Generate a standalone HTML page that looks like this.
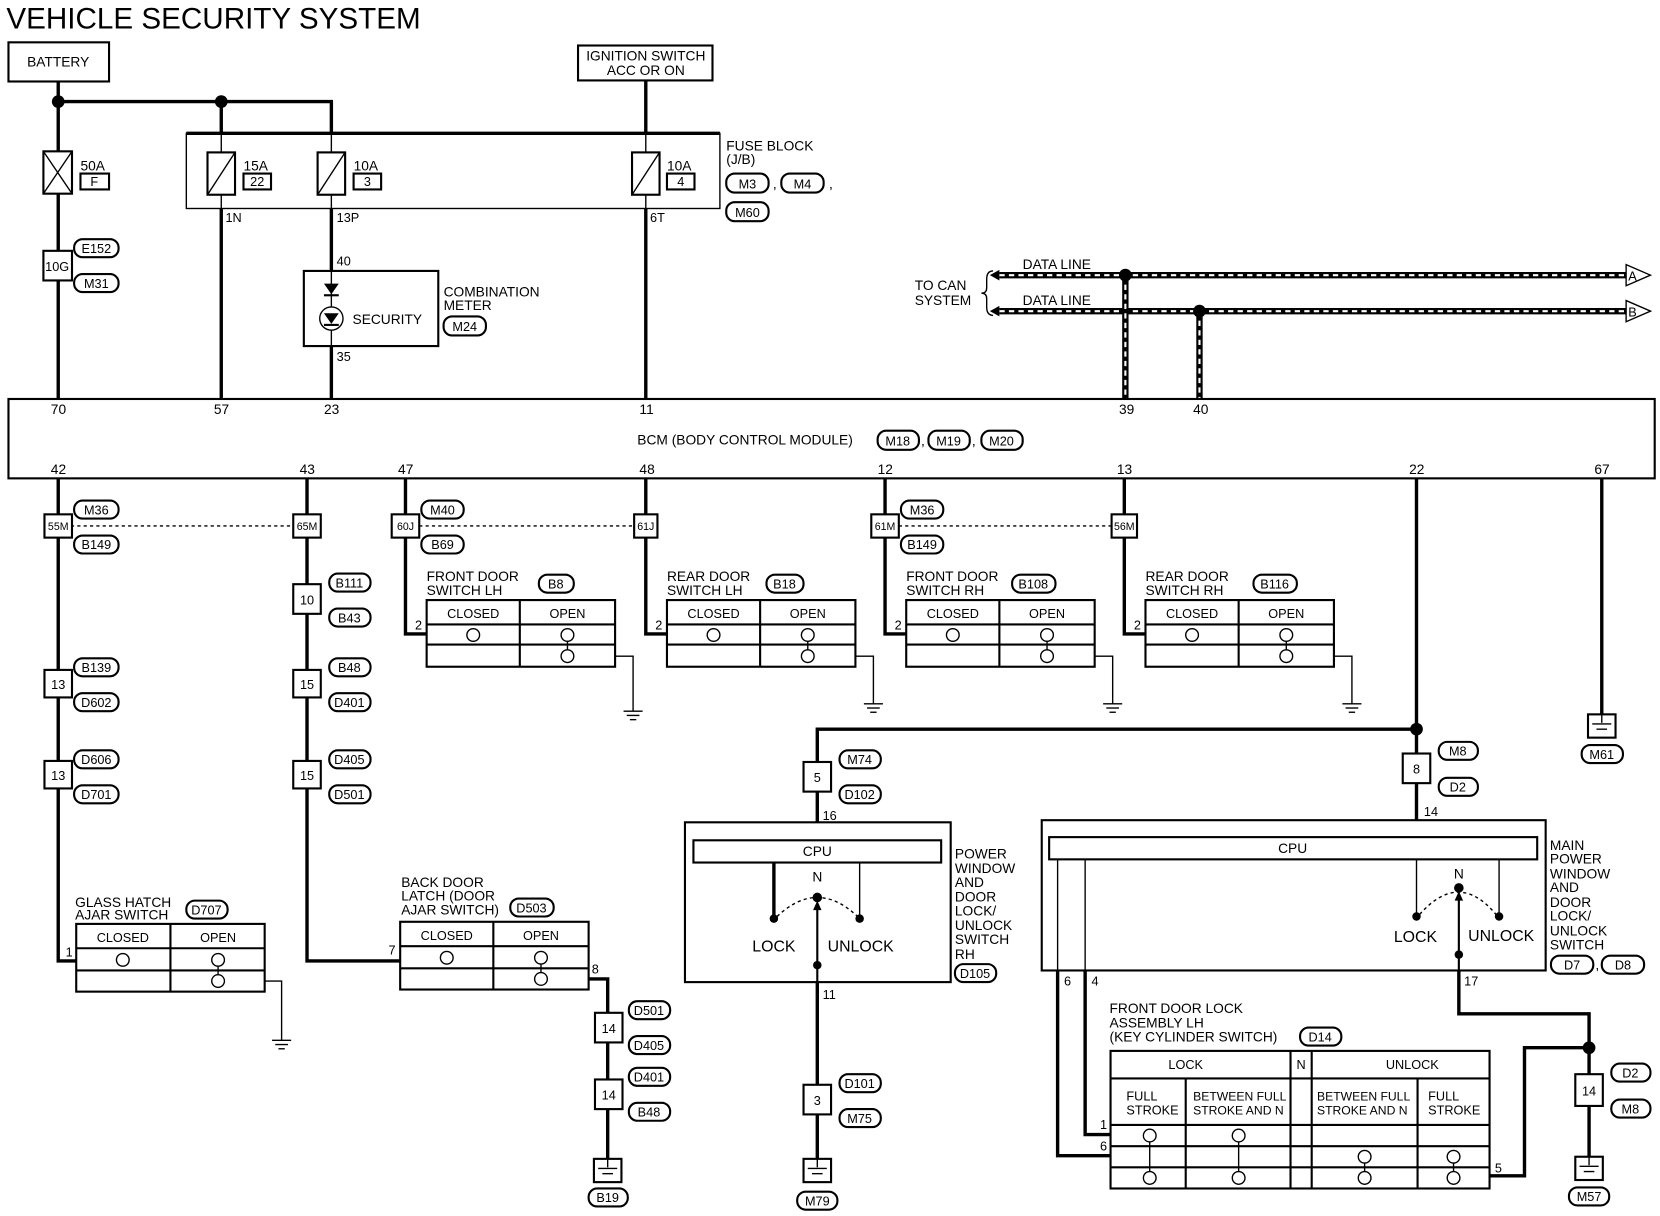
<!DOCTYPE html>
<html><head><meta charset="utf-8"><style>
html,body{margin:0;padding:0;background:#fff;}
svg{display:block;}
text{font-family:"Liberation Sans",sans-serif;font-size:13px;fill:#000;}
.t{stroke:#000;stroke-width:3.2;fill:none;}
.n{stroke:#000;stroke-width:1.3;fill:none;}
.b{stroke:#000;stroke-width:2;fill:none;}
.c{text-anchor:middle;}
.s{font-size:12px;}
rect[fill="#fff"],circle[fill="#fff"],polygon[fill="#fff"]{fill:#fff;}
</style></head><body>
<svg width="1660" height="1216" viewBox="0 0 1568 1149" preserveAspectRatio="none" xmlns="http://www.w3.org/2000/svg">
<defs>
<g id="gnd"><line class="n" x1="-9" y1="0" x2="9" y2="0"/><line class="n" x1="-6" y1="4" x2="6" y2="4"/><line class="n" x1="-3" y1="8" x2="3" y2="8"/></g>
<g id="gbox"><rect class="b" x="-13" y="0" width="26" height="22" fill="#fff"/><line class="n" x1="0" y1="0" x2="0" y2="8"/><line class="n" x1="-9" y1="9" x2="9" y2="9"/><line class="n" x1="-5" y1="14" x2="5" y2="14"/></g>
<g id="sw"><circle class="n" cx="0" cy="0" r="6" fill="#fff"/><line class="n" x1="0" y1="6" x2="0" y2="14"/><circle class="n" cx="0" cy="20" r="6" fill="#fff"/></g>
</defs>
<rect width="1568" height="1149" fill="#fff"/>
<text x="6" y="27" style="font-size:28px">VEHICLE SECURITY SYSTEM</text>

<!-- battery -->
<rect class="b" x="8" y="40" width="95" height="37"/><text x="55" y="63" class="c">BATTERY</text>
<line class="t" x1="55" y1="77" x2="55" y2="377"/>
<polyline class="t" points="55,96 313,96 313,126"/>
<line class="t" x1="209" y1="96" x2="209" y2="126"/>
<circle cx="55" cy="96" r="6"/><circle cx="209" cy="96" r="6"/>
<rect class="b" x="41" y="143" width="27" height="40" fill="#fff"/><line class="n" x1="41" y1="143" x2="68" y2="183"/><line class="n" x1="68" y1="143" x2="41" y2="183"/>
<text x="76" y="161">50A</text><rect class="b" x="76" y="164" width="27" height="15"/><text x="89" y="176" class="c s">F</text>
<rect class="b" x="41" y="237" width="27" height="28" fill="#fff"/><text x="54" y="256" class="c s">10G</text>
<rect class="b" x="70" y="226" width="42" height="17" rx="8"/><text x="91" y="239" class="c s">E152</text>
<rect class="b" x="70" y="259" width="42" height="17" rx="8"/><text x="91" y="272" class="c s">M31</text>

<!-- fuse block -->
<rect class="n" x="176" y="126" width="504" height="71"/><line class="t" x1="176" y1="126" x2="680" y2="126"/>
<line class="n" x1="209" y1="126" x2="209" y2="197"/><line class="n" x1="313" y1="126" x2="313" y2="197"/><line class="n" x1="610" y1="126" x2="610" y2="197"/>
<rect class="b" x="196" y="144" width="26" height="40" fill="#fff"/><line class="n" x1="196" y1="184" x2="222" y2="144"/>
<text x="230" y="161">15A</text><rect class="b" x="230" y="164" width="26" height="15"/><text x="243" y="176" class="c s">22</text>
<rect class="b" x="300" y="144" width="26" height="40" fill="#fff"/><line class="n" x1="300" y1="184" x2="326" y2="144"/>
<text x="334" y="161">10A</text><rect class="b" x="334" y="164" width="26" height="15"/><text x="347" y="176" class="c s">3</text>
<rect class="b" x="597" y="144" width="26" height="40" fill="#fff"/><line class="n" x1="597" y1="184" x2="623" y2="144"/>
<text x="630" y="161">10A</text><rect class="b" x="630" y="164" width="26" height="15"/><text x="643" y="176" class="c s">4</text>
<text x="686" y="142">FUSE BLOCK</text><text x="686" y="155">(J/B)</text>
<rect class="b" x="686" y="164" width="40" height="18" rx="8"/><text x="706" y="178" class="c s">M3</text><text x="730" y="178">,</text>
<rect class="b" x="738" y="164" width="40" height="18" rx="8"/><text x="758" y="178" class="c s">M4</text><text x="783" y="178">,</text>
<rect class="b" x="686" y="191" width="40" height="18" rx="8"/><text x="706" y="205" class="c s">M60</text>
<line class="t" x1="209" y1="197" x2="209" y2="377"/><text x="213" y="210" class="s">1N</text>
<line class="t" x1="313" y1="197" x2="313" y2="256"/><text x="318" y="210" class="s">13P</text><text x="318" y="251" class="s">40</text>
<rect class="b" x="287" y="256" width="127" height="71"/>
<line class="n" x1="313" y1="256" x2="313" y2="290"/>
<polygon points="306,268 320,268 313,278"/><line class="b" x1="306" y1="279" x2="320" y2="279"/>
<circle class="n" cx="313" cy="301" r="11"/><polygon points="306,296 320,296 313,306"/><line class="b" x1="306" y1="307" x2="320" y2="307"/>
<line class="n" x1="313" y1="312" x2="313" y2="327"/>
<text x="333" y="306">SECURITY</text>
<text x="318" y="341" class="s">35</text><line class="t" x1="313" y1="327" x2="313" y2="377"/>
<text x="419" y="280">COMBINATION</text><text x="419" y="293">METER</text>
<rect class="b" x="419" y="299" width="40" height="18" rx="8"/><text x="439" y="313" class="c s">M24</text>
<rect class="b" x="546" y="43" width="127" height="33"/><text x="610" y="57" class="c">IGNITION SWITCH</text><text x="610" y="71" class="c">ACC OR ON</text>
<line class="t" x1="610" y1="76" x2="610" y2="126"/><line class="t" x1="610" y1="197" x2="610" y2="377"/><text x="614" y="210" class="s">6T</text>

<!-- CAN -->
<text x="864" y="274">TO CAN</text><text x="864" y="288">SYSTEM</text>
<path class="n" d="M938,256 Q932,256 932,264 L932,272 Q932,277 927,277 Q932,277 932,282 L932,290 Q932,298 938,298"/>
<line x1="944" y1="260" x2="1536" y2="260" stroke="#000" stroke-width="6"/><line x1="944" y1="260" x2="1536" y2="260" stroke="#fff" stroke-width="2" stroke-dasharray="5,4"/>
<line x1="944" y1="294" x2="1536" y2="294" stroke="#000" stroke-width="6"/><line x1="944" y1="294" x2="1536" y2="294" stroke="#fff" stroke-width="2" stroke-dasharray="5,4"/>
<polygon points="935,260 944,255 944,265"/><polygon points="935,294 944,289 944,299"/>
<polygon class="n" points="1536,250 1559,260 1536,270" fill="#fff"/><text x="1538" y="265" class="s">A</text>
<polygon class="n" points="1536,284 1559,294 1536,304" fill="#fff"/><text x="1538" y="299" class="s">B</text>
<text x="966" y="254">DATA LINE</text><text x="966" y="288">DATA LINE</text>
<line x1="1063" y1="260" x2="1063" y2="377" stroke="#000" stroke-width="6"/><line x1="1063" y1="260" x2="1063" y2="377" stroke="#fff" stroke-width="2" stroke-dasharray="5,4"/>
<line x1="1133" y1="294" x2="1133" y2="377" stroke="#000" stroke-width="6"/><line x1="1133" y1="294" x2="1133" y2="377" stroke="#fff" stroke-width="2" stroke-dasharray="5,4"/>
<circle cx="1063" cy="260" r="6"/><circle cx="1133" cy="294" r="6"/>

<!-- BCM -->
<rect class="b" x="8" y="377" width="1555" height="75" fill="#fff"/>
<g class="s"><text x="48" y="391">70</text><text x="202" y="391">57</text><text x="306" y="391">23</text><text x="604" y="391">11</text><text x="1057" y="391">39</text><text x="1127" y="391">40</text>
<text x="48" y="448">42</text><text x="283" y="448">43</text><text x="376" y="448">47</text><text x="604" y="448">48</text><text x="829" y="448">12</text><text x="1055" y="448">13</text><text x="1331" y="448">22</text><text x="1506" y="448">67</text></g>
<text x="602" y="420">BCM (BODY CONTROL MODULE)</text>
<rect class="b" x="829" y="407" width="39" height="18" rx="8"/><text x="848" y="421" class="c s">M18</text><text x="870" y="421">,</text>
<rect class="b" x="877" y="407" width="39" height="18" rx="8"/><text x="896" y="421" class="c s">M19</text><text x="918" y="421">,</text>
<rect class="b" x="927" y="407" width="39" height="18" rx="8"/><text x="946" y="421" class="c s">M20</text>

<!-- connector row -->
<line class="n" x1="67" y1="497" x2="277" y2="497" stroke-dasharray="3,3"/>
<line class="n" x1="396" y1="497" x2="599" y2="497" stroke-dasharray="3,3"/>
<line class="n" x1="849" y1="497" x2="1050" y2="497" stroke-dasharray="3,3"/>

<!-- left column x=55 -->
<polyline class="t" points="55,452 55,908 72,908"/>
<rect class="b" x="42" y="486" width="26" height="22" fill="#fff"/><text x="55" y="501" class="c" style="font-size:10px">55M</text>
<rect class="b" x="70" y="473" width="42" height="17" rx="8"/><text x="91" y="486" class="c s">M36</text>
<rect class="b" x="70" y="506" width="42" height="17" rx="8"/><text x="91" y="519" class="c s">B149</text>
<rect class="b" x="42" y="633" width="26" height="26" fill="#fff"/><text x="55" y="651" class="c s">13</text>
<rect class="b" x="70" y="622" width="42" height="17" rx="8"/><text x="91" y="635" class="c s">B139</text>
<rect class="b" x="70" y="655" width="42" height="17" rx="8"/><text x="91" y="668" class="c s">D602</text>
<rect class="b" x="42" y="719" width="26" height="26" fill="#fff"/><text x="55" y="737" class="c s">13</text>
<rect class="b" x="70" y="709" width="42" height="17" rx="8"/><text x="91" y="722" class="c s">D606</text>
<rect class="b" x="70" y="742" width="42" height="17" rx="8"/><text x="91" y="755" class="c s">D701</text>
<text x="62" y="904" class="s">1</text>
<text x="71" y="857">GLASS HATCH</text><text x="71" y="869">AJAR SWITCH</text>
<rect class="b" x="176" y="851" width="39" height="17" rx="8"/><text x="195" y="864" class="c s">D707</text>
<g transform="translate(72,873)">
<rect class="b" x="0" y="0" width="178" height="64"/><line class="b" x1="0" y1="23" x2="178" y2="23"/><line class="b" x1="0" y1="44" x2="178" y2="44"/><line class="b" x1="89" y1="0" x2="89" y2="64"/>
<text x="44" y="17" class="c s">CLOSED</text><text x="134" y="17" class="c s">OPEN</text>
<circle class="n" cx="44" cy="34" r="6"/><use href="#sw" x="134" y="34"/>
</g>
<polyline class="n" points="250,927 266,927 266,983"/><use href="#gnd" x="266" y="983"/>

<!-- column x=290 -->
<polyline class="t" points="290,452 290,908 378,908"/>
<rect class="b" x="277" y="486" width="26" height="22" fill="#fff"/><text x="290" y="501" class="c" style="font-size:10px">65M</text>
<rect class="b" x="277" y="552" width="26" height="28" fill="#fff"/><text x="290" y="571" class="c s">10</text>
<rect class="b" x="311" y="542" width="39" height="17" rx="8"/><text x="330" y="555" class="c s">B111</text>
<rect class="b" x="311" y="575" width="39" height="17" rx="8"/><text x="330" y="588" class="c s">B43</text>
<rect class="b" x="277" y="633" width="26" height="26" fill="#fff"/><text x="290" y="651" class="c s">15</text>
<rect class="b" x="311" y="622" width="39" height="17" rx="8"/><text x="330" y="635" class="c s">B48</text>
<rect class="b" x="311" y="655" width="39" height="17" rx="8"/><text x="330" y="668" class="c s">D401</text>
<rect class="b" x="277" y="719" width="26" height="26" fill="#fff"/><text x="290" y="737" class="c s">15</text>
<rect class="b" x="311" y="709" width="39" height="17" rx="8"/><text x="330" y="722" class="c s">D405</text>
<rect class="b" x="311" y="742" width="39" height="17" rx="8"/><text x="330" y="755" class="c s">D501</text>
<text x="367" y="902" class="s">7</text>
<text x="379" y="838">BACK DOOR</text><text x="379" y="851">LATCH (DOOR</text><text x="379" y="864">AJAR SWITCH)</text>
<rect class="b" x="482" y="849" width="41" height="17" rx="8"/><text x="502" y="862" class="c s">D503</text>
<g transform="translate(378,871)">
<rect class="b" x="0" y="0" width="178" height="64"/><line class="b" x1="0" y1="23" x2="178" y2="23"/><line class="b" x1="0" y1="44" x2="178" y2="44"/><line class="b" x1="88" y1="0" x2="88" y2="64"/>
<text x="44" y="17" class="c s">CLOSED</text><text x="133" y="17" class="c s">OPEN</text>
<circle class="n" cx="44" cy="34" r="6"/><use href="#sw" x="133" y="34"/>
</g>
<text x="559" y="920" class="s">8</text>
<polyline class="t" points="556,925 574,925 574,1095"/>
<rect class="b" x="562" y="957" width="26" height="28" fill="#fff"/><text x="575" y="976" class="c s">14</text>
<rect class="b" x="562" y="1020" width="26" height="28" fill="#fff"/><text x="575" y="1039" class="c s">14</text>
<rect class="b" x="594" y="946" width="39" height="17" rx="8"/><text x="613" y="959" class="c s">D501</text>
<rect class="b" x="594" y="979" width="39" height="17" rx="8"/><text x="613" y="992" class="c s">D405</text>
<rect class="b" x="594" y="1009" width="39" height="17" rx="8"/><text x="613" y="1022" class="c s">D401</text>
<rect class="b" x="594" y="1042" width="39" height="17" rx="8"/><text x="613" y="1055" class="c s">B48</text>
<use href="#gbox" x="574" y="1095"/>
<rect class="b" x="556" y="1123" width="37" height="17" rx="8"/><text x="574" y="1136" class="c s">B19</text>

<!-- door switches -->
<g transform="translate(383,0)">
<polyline class="t" points="0,452 0,599 20,599"/>
<rect class="b" x="-13" y="486" width="26" height="22" fill="#fff"/><text x="0" y="501" class="c" style="font-size:10px">60J</text>
<rect class="b" x="15" y="473" width="40" height="17" rx="8"/><text x="35" y="486" class="c s">M40</text>
<rect class="b" x="15" y="506" width="40" height="17" rx="8"/><text x="35" y="519" class="c s">B69</text>
<text x="20" y="549">FRONT DOOR</text><text x="20" y="562">SWITCH LH</text>
<rect class="b" x="126" y="543" width="33" height="17" rx="8"/><text x="142" y="556" class="c s">B8</text>
<text x="9" y="595" class="s">2</text>
<g transform="translate(20,567)"><rect class="b" x="0" y="0" width="178" height="63"/><line class="b" x1="0" y1="23" x2="178" y2="23"/><line class="b" x1="0" y1="42" x2="178" y2="42"/><line class="b" x1="88" y1="0" x2="88" y2="63"/>
<text x="44" y="17" class="c s">CLOSED</text><text x="133" y="17" class="c s">OPEN</text><circle class="n" cx="44" cy="33" r="6"/><use href="#sw" x="133" y="33"/></g>
<polyline class="n" points="198,620 215,620 215,672"/><use href="#gnd" x="215" y="672"/>
</g>
<g transform="translate(610,0)">
<polyline class="t" points="0,452 0,599 20,599"/>
<rect class="b" x="-11" y="486" width="22" height="22" fill="#fff"/><text x="0" y="501" class="c" style="font-size:10px">61J</text>
<text x="20" y="549">REAR DOOR</text><text x="20" y="562">SWITCH LH</text>
<rect class="b" x="114" y="543" width="35" height="17" rx="8"/><text x="131" y="556" class="c s">B18</text>
<text x="9" y="595" class="s">2</text>
<g transform="translate(20,567)"><rect class="b" x="0" y="0" width="178" height="63"/><line class="b" x1="0" y1="23" x2="178" y2="23"/><line class="b" x1="0" y1="42" x2="178" y2="42"/><line class="b" x1="88" y1="0" x2="88" y2="63"/>
<text x="44" y="17" class="c s">CLOSED</text><text x="133" y="17" class="c s">OPEN</text><circle class="n" cx="44" cy="33" r="6"/><use href="#sw" x="133" y="33"/></g>
<polyline class="n" points="198,620 215,620 215,665"/><use href="#gnd" x="215" y="665"/>
</g>
<g transform="translate(836,0)">
<polyline class="t" points="0,452 0,599 20,599"/>
<rect class="b" x="-13" y="486" width="26" height="22" fill="#fff"/><text x="0" y="501" class="c" style="font-size:10px">61M</text>
<rect class="b" x="15" y="473" width="40" height="17" rx="8"/><text x="35" y="486" class="c s">M36</text>
<rect class="b" x="15" y="506" width="40" height="17" rx="8"/><text x="35" y="519" class="c s">B149</text>
<text x="20" y="549">FRONT DOOR</text><text x="20" y="562">SWITCH RH</text>
<rect class="b" x="120" y="543" width="41" height="17" rx="8"/><text x="140" y="556" class="c s">B108</text>
<text x="9" y="595" class="s">2</text>
<g transform="translate(20,567)"><rect class="b" x="0" y="0" width="178" height="63"/><line class="b" x1="0" y1="23" x2="178" y2="23"/><line class="b" x1="0" y1="42" x2="178" y2="42"/><line class="b" x1="88" y1="0" x2="88" y2="63"/>
<text x="44" y="17" class="c s">CLOSED</text><text x="133" y="17" class="c s">OPEN</text><circle class="n" cx="44" cy="33" r="6"/><use href="#sw" x="133" y="33"/></g>
<polyline class="n" points="198,620 215,620 215,665"/><use href="#gnd" x="215" y="665"/>
</g>
<g transform="translate(1062,0)">
<polyline class="t" points="0,452 0,599 20,599"/>
<rect class="b" x="-12" y="486" width="24" height="22" fill="#fff"/><text x="0" y="501" class="c" style="font-size:10px">56M</text>
<text x="20" y="549">REAR DOOR</text><text x="20" y="562">SWITCH RH</text>
<rect class="b" x="122" y="543" width="41" height="17" rx="8"/><text x="142" y="556" class="c s">B116</text>
<text x="9" y="595" class="s">2</text>
<g transform="translate(20,567)"><rect class="b" x="0" y="0" width="178" height="63"/><line class="b" x1="0" y1="23" x2="178" y2="23"/><line class="b" x1="0" y1="42" x2="178" y2="42"/><line class="b" x1="88" y1="0" x2="88" y2="63"/>
<text x="44" y="17" class="c s">CLOSED</text><text x="133" y="17" class="c s">OPEN</text><circle class="n" cx="44" cy="33" r="6"/><use href="#sw" x="133" y="33"/></g>
<polyline class="n" points="198,620 215,620 215,665"/><use href="#gnd" x="215" y="665"/>
</g>

<!-- ground 67 -->
<line class="t" x1="1513" y1="452" x2="1513" y2="675"/>
<use href="#gbox" x="1513" y="675"/>
<rect class="b" x="1494" y="704" width="39" height="17" rx="8"/><text x="1513" y="717" class="c s">M61</text>

<!-- right side -->
<line class="t" x1="1338" y1="452" x2="1338" y2="775"/>
<polyline class="t" points="1338,689 772,689 772,777"/>
<circle cx="1338" cy="689" r="6"/>
<rect class="b" x="759" y="720" width="26" height="28" fill="#fff"/><text x="772" y="739" class="c s">5</text>
<rect class="b" x="793" y="709" width="39" height="17" rx="8"/><text x="812" y="722" class="c s">M74</text>
<rect class="b" x="793" y="742" width="39" height="17" rx="8"/><text x="812" y="755" class="c s">D102</text>
<text x="777" y="775" class="s">16</text>
<rect class="b" x="647" y="777" width="251" height="151"/>
<rect class="b" x="655" y="794" width="234" height="21"/><text x="772" y="809" class="c">CPU</text>
<line class="t" x1="731" y1="815" x2="731" y2="868"/><line class="n" x1="812" y1="815" x2="812" y2="868"/>
<circle cx="731" cy="868" r="4"/><circle cx="812" cy="868" r="4"/>
<text x="772" y="833" class="c">N</text>
<path d="M734,866 Q772,830 810,866" fill="none" stroke="#000" stroke-width="1.3" stroke-dasharray="3,3"/>
<circle cx="772" cy="848" r="4.5"/><polygon points="772,851 768,860 776,860"/>
<line class="b" x1="772" y1="858" x2="772" y2="928"/><circle cx="772" cy="912" r="4"/>
<text x="731" y="899" class="c" style="font-size:15px">LOCK</text><text x="813" y="899" class="c" style="font-size:15px">UNLOCK</text>
<g><text x="902" y="811">POWER</text><text x="902" y="825">WINDOW</text><text x="902" y="838">AND</text><text x="902" y="852">DOOR</text><text x="902" y="865">LOCK/</text><text x="902" y="879">UNLOCK</text><text x="902" y="892">SWITCH</text><text x="902" y="906">RH</text></g>
<rect class="b" x="902" y="911" width="39" height="17" rx="8"/><text x="921" y="924" class="c s">D105</text>
<line class="t" x1="772" y1="928" x2="772" y2="1095"/><text x="777" y="944" class="s">11</text>
<rect class="b" x="759" y="1025" width="26" height="28" fill="#fff"/><text x="772" y="1044" class="c s">3</text>
<rect class="b" x="793" y="1015" width="39" height="17" rx="8"/><text x="812" y="1028" class="c s">D101</text>
<rect class="b" x="793" y="1048" width="39" height="17" rx="8"/><text x="812" y="1061" class="c s">M75</text>
<use href="#gbox" x="772" y="1095"/>
<rect class="b" x="753" y="1126" width="38" height="17" rx="8"/><text x="772" y="1139" class="c s">M79</text>

<!-- main switch -->
<rect class="b" x="1325" y="712" width="26" height="28" fill="#fff"/><text x="1338" y="731" class="c s">8</text>
<rect class="b" x="1359" y="701" width="37" height="17" rx="8"/><text x="1377" y="714" class="c s">M8</text>
<rect class="b" x="1359" y="735" width="37" height="17" rx="8"/><text x="1377" y="748" class="c s">D2</text>
<text x="1345" y="771" class="s">14</text>
<rect class="b" x="984" y="775" width="476" height="142"/>
<rect class="b" x="991" y="791" width="461" height="21"/><text x="1221" y="806" class="c">CPU</text>
<line class="n" x1="999" y1="812" x2="999" y2="917"/><line class="n" x1="1025" y1="812" x2="1025" y2="917"/>
<line class="n" x1="1338" y1="812" x2="1338" y2="866"/><line class="n" x1="1416" y1="812" x2="1416" y2="866"/>
<circle cx="1338" cy="866" r="4"/><circle cx="1416" cy="866" r="4"/>
<text x="1378" y="830" class="c">N</text>
<path d="M1341,864 Q1378,822 1413,864" fill="none" stroke="#000" stroke-width="1.3" stroke-dasharray="3,3"/>
<circle cx="1378" cy="839" r="4.5"/><polygon points="1378,842 1374,851 1382,851"/>
<line class="b" x1="1378" y1="849" x2="1378" y2="917"/><circle cx="1378" cy="902" r="4"/>
<text x="1337" y="890" class="c" style="font-size:15px">LOCK</text><text x="1418" y="889" class="c" style="font-size:15px">UNLOCK</text>
<g><text x="1464" y="803">MAIN</text><text x="1464" y="816">POWER</text><text x="1464" y="830">WINDOW</text><text x="1464" y="843">AND</text><text x="1464" y="857">DOOR</text><text x="1464" y="870">LOCK/</text><text x="1464" y="884">UNLOCK</text><text x="1464" y="897">SWITCH</text></g>
<rect class="b" x="1465" y="903" width="40" height="17" rx="8"/><text x="1485" y="916" class="c s">D7</text><text x="1507" y="916">,</text>
<rect class="b" x="1513" y="903" width="40" height="17" rx="8"/><text x="1533" y="916" class="c s">D8</text>
<polyline class="t" points="1378,917 1378,958 1501,958 1501,1093"/>
<circle cx="1501" cy="990" r="6"/>
<text x="1383" y="931" class="s">17</text>
<polyline class="t" points="1501,990 1440,990 1440,1111 1407,1111"/>
<text x="1412" y="1108" class="s">5</text>
<rect class="b" x="1488" y="1015" width="26" height="30" fill="#fff"/><text x="1501" y="1035" class="c s">14</text>
<rect class="b" x="1522" y="1005" width="37" height="17" rx="8"/><text x="1540" y="1018" class="c s">D2</text>
<rect class="b" x="1522" y="1039" width="37" height="17" rx="8"/><text x="1540" y="1052" class="c s">M8</text>
<use href="#gbox" x="1501" y="1093"/>
<rect class="b" x="1482" y="1122" width="38" height="17" rx="8"/><text x="1501" y="1135" class="c s">M57</text>
<polyline class="t" points="999,917 999,1092 1049,1092"/>
<polyline class="t" points="1025,917 1025,1072 1049,1072"/>
<text x="1005" y="931" class="s">6</text><text x="1031" y="931" class="s">4</text>
<text x="1039" y="1067" class="s">1</text><text x="1039" y="1087" class="s">6</text>
<text x="1048" y="957">FRONT DOOR LOCK</text><text x="1048" y="971">ASSEMBLY LH</text><text x="1048" y="984">(KEY CYLINDER SWITCH)</text>
<rect class="b" x="1228" y="971" width="39" height="17" rx="8"/><text x="1247" y="984" class="c s">D14</text>
<g>
<rect class="b" x="1049" y="993" width="358" height="130"/>
<line class="b" x1="1049" y1="1019" x2="1407" y2="1019"/>
<line class="b" x1="1049" y1="1063" x2="1407" y2="1063"/>
<line class="b" x1="1049" y1="1083" x2="1407" y2="1083"/>
<line class="b" x1="1049" y1="1103" x2="1407" y2="1103"/>
<line class="b" x1="1219" y1="993" x2="1219" y2="1123"/><line class="b" x1="1239" y1="993" x2="1239" y2="1123"/>
<line class="b" x1="1120" y1="1019" x2="1120" y2="1123"/><line class="b" x1="1339" y1="1019" x2="1339" y2="1123"/>
<text x="1120" y="1010" class="c s">LOCK</text><text x="1229" y="1010" class="c s">N</text><text x="1334" y="1010" class="c s">UNLOCK</text>
<text x="1064" y="1040" class="s">FULL</text><text x="1064" y="1053" class="s">STROKE</text>
<text x="1127" y="1040" class="s" style="font-size:11.5px">BETWEEN FULL</text><text x="1127" y="1053" class="s" style="font-size:11.5px">STROKE AND N</text>
<text x="1244" y="1040" class="s" style="font-size:11.5px">BETWEEN FULL</text><text x="1244" y="1053" class="s" style="font-size:11.5px">STROKE AND N</text>
<text x="1349" y="1040" class="s">FULL</text><text x="1349" y="1053" class="s">STROKE</text>
<circle class="n" cx="1086" cy="1073" r="6"/><line class="n" x1="1086" y1="1079" x2="1086" y2="1107"/><circle class="n" cx="1086" cy="1113" r="6"/>
<circle class="n" cx="1170" cy="1073" r="6"/><line class="n" x1="1170" y1="1079" x2="1170" y2="1107"/><circle class="n" cx="1170" cy="1113" r="6"/>
<use href="#sw" x="1289" y="1093"/><use href="#sw" x="1373" y="1093"/>
</g>
</svg>
</body></html>
